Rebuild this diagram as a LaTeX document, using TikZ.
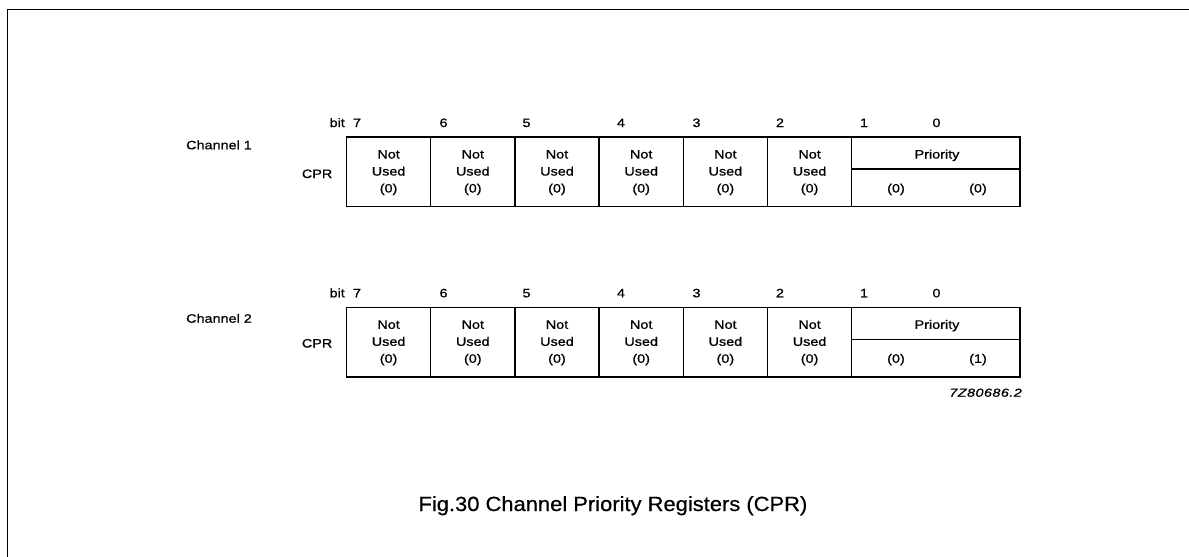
\documentclass[tikz,border=0pt]{standalone}
\usepackage{fontspec}
\setmainfont{Liberation Sans}[FakeStretch=1.18,FakeBold=0.9]
\newfontfamily\capfont{Liberation Sans}[FakeStretch=1.07,FakeBold=0.6]
\newfontfamily\codefont{Liberation Sans Italic}[FakeStretch=1.25,FakeBold=1.0,LetterSpace=4]
\begin{document}
\begin{tikzpicture}[x=1pt,y=-1pt,
  txt/.style={inner sep=0pt, anchor=base, font=\fontsize{12.2}{14}\selectfont},
  lbl/.style={inner sep=0pt, anchor=base west, font=\fontsize{12.2}{14}\selectfont},
  frame/.style={line width=1.6pt},
  reg/.style={line width=1.4pt}]
\useasboundingbox (0,0) rectangle (1189,557);
\draw[frame] (7.5,557) -- (7.5,9.5) -- (1189,9.5);
\foreach \r/\T/\cb/\cl/\pb in {1/137/149.3/178/0, 2/307.3/322.7/347.5/1}{
  \draw[reg] (346.5,\T) rectangle (1020.1,\T+69.5);
  \foreach \k in {1,...,6}{
    \draw[reg] (346.5+\k*84.2,\T) -- (346.5+\k*84.2,\T+69.5);
  }
  \draw[reg] (851.7,\T+32) -- (1020.1,\T+32);
  \foreach \k in {0,...,5}{
    \node[txt] (not\r\k) at (388.6+\k*84.2,\T+21.5) {Not};
    \node[txt] (used\r\k) at (388.6+\k*84.2,\T+38.5) {Used};
    \node[txt] (z\r\k) at (388.6+\k*84.2,\T+55.5) {(0)};
  }
  \node[txt] (prio\r) at (937,\T+21.5) {Priority};
  \node[txt] (pa\r) at (896,\T+55.5) {(0)};
  \node[txt] (pb\r) at (978,\T+55.5) {(\pb)};
  \node[lbl] (ch\r) at (186,\cb) {Channel \r};
  \node[lbl] (cpr\r) at (301.7,\cl) {CPR};
  \node[txt, anchor=base east] (bit\r) at (345,\T-10) {bit};
  \foreach \b/\x in {7/357,6/443.5,5/526.5,4/621,3/696.5,2/780,1/864,0/936.5}{
    \node[txt] (b\r\b) at (\x,\T-10) {\b};
  }
}
\node[inner sep=0pt, anchor=base east, font=\codefont\fontsize{11.5}{13}\selectfont] (code) at (1022,396.7) {7Z80686.2};
\node[inner sep=0pt, anchor=base west, font=\capfont\fontsize{20.5}{24}\selectfont] (caption) at (418.3,511) {Fig.30 Channel Priority Registers (CPR)};
\end{tikzpicture}
\end{document}
